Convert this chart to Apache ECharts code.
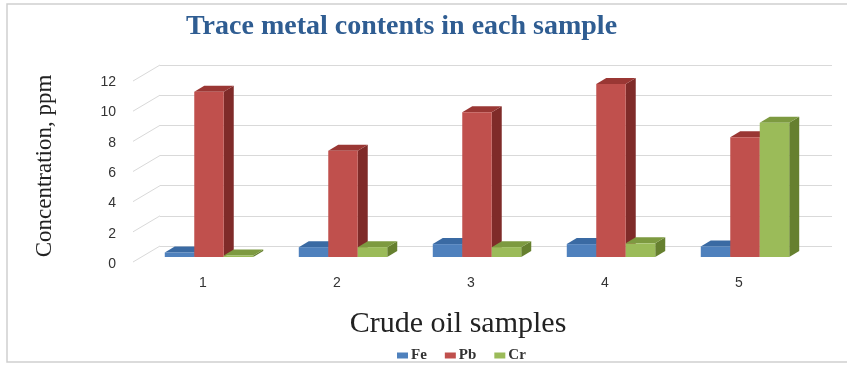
<!DOCTYPE html>
<html>
<head>
<meta charset="utf-8">
<script src="https://cdn.jsdelivr.net/npm/echarts@6/dist/echarts.min.js"></script>
<style>html,body{margin:0;padding:0;background:#fff}#c{width:847px;height:365px}</style>
</head>
<body>
<div id="c"></div>
<script>
const categories = ['1', '2', '3', '4', '5'];
const fe = [0.3, 0.65, 0.85, 0.85, 0.7];
const pb = [10.9, 7.0, 9.55, 11.4, 7.9];
const cr = [0.1, 0.65, 0.65, 0.9, 8.85];
const yTicks = [0, 2, 4, 6, 8, 10, 12];
const seriesNames = ['Fe', 'Pb', 'Cr'];

const palette = [
  { front: '#4F81BD', side: '#2F5B8E', top: '#3A6AA3' },
  { front: '#C0504D', side: '#7F2B29', top: '#9A3734' },
  { front: '#9BBB59', side: '#66802F', top: '#7D9A40' }
];
const DX = 10, DY = -6;

function barSeries(name, data, s) {
  return {
    type: 'custom',
    name: name,
    xAxisIndex: 0, yAxisIndex: 0,
    itemStyle: { color: palette[s].front },
    data: data.map((v, i) => [i, v]),
    renderItem: function (params, api) {
      const idx = api.value(0), val = api.value(1);
      const base = api.coord([idx, 0]);
      const topP = api.coord([idx, val]);
      const band = api.size([1, 0])[0];
      const w = band * 0.22;
      const x0 = base[0] - 1.5 * w + 6 + s * w;
      const yb = base[1], yt = topP[1];
      const c = palette[s];
      return {
        type: 'group',
        children: [
          { type: 'polygon', shape: { points: [[x0 + w, yt], [x0 + w + DX, yt + DY], [x0 + w + DX, yb + DY], [x0 + w, yb]] }, style: { fill: c.side } },
          { type: 'polygon', shape: { points: [[x0, yt], [x0 + DX, yt + DY], [x0 + w + DX, yt + DY], [x0 + w, yt]] }, style: { fill: c.top } },
          { type: 'rect', shape: { x: x0, y: yt, width: w, height: yb - yt }, style: { fill: c.front } }
        ]
      };
    }
  };
}

const chart = echarts.init(document.getElementById('c'));
chart.setOption({
  animation: false,
  backgroundColor: '#fff',
  title: {
    text: 'Trace metal contents in each sample',
    left: 181, top: 8,
    textStyle: { fontFamily: 'Liberation Serif', fontWeight: 'bold', fontSize: 28, color: '#2F5D92' }
  },
  graphic: [{
    type: 'rect', shape: { x: 7, y: 4, width: 860, height: 358 },
    style: { fill: null, stroke: '#CFCFCF', lineWidth: 1.5 }, silent: true, z: -1
  }],
  legend: {
    data: seriesNames,
    left: 392, top: 343,
    icon: 'rect', itemWidth: 11, itemHeight: 6, itemGap: 18,
    textStyle: { fontFamily: 'Liberation Serif', fontWeight: 'bold', fontSize: 15, color: '#333', padding: [0, 0, 0, -2] }
  },
  grid: [
    { left: 136, right: 41, top: 75, bottom: 108 },
    { left: 160, right: 15, top: 65, bottom: 119 }
  ],
  xAxis: [
    {
      type: 'category', gridIndex: 0, data: categories,
      axisLine: { show: false }, axisTick: { show: false },
      axisLabel: { margin: 19, fontFamily: 'Liberation Sans', fontSize: 14, color: '#333' },
      name: 'Crude oil samples', nameLocation: 'middle', nameGap: 67,
      nameTextStyle: { fontFamily: 'Liberation Serif', fontSize: 30, color: '#222', verticalAlign: 'middle', padding: [0, 26, 0, 0] }
    },
    { type: 'value', gridIndex: 1, min: 0, max: 1, show: false }
  ],
  yAxis: [
    {
      type: 'value', gridIndex: 0, min: 0, max: 12, interval: 2,
      axisLine: { show: false }, axisTick: { show: false }, splitLine: { show: false },
      axisLabel: { margin: 20, fontFamily: 'Liberation Sans', fontSize: 14, color: '#333', verticalAlign: 'top' },
      name: 'Concentration, ppm', nameLocation: 'middle', nameGap: 80,
      nameTextStyle: { fontFamily: 'Liberation Serif', fontSize: 23, color: '#222' }
    },
    {
      type: 'value', gridIndex: 1, min: 0, max: 12, interval: 2,
      axisLine: { show: false }, axisTick: { show: false }, axisLabel: { show: false },
      splitLine: { show: true, lineStyle: { color: '#D9D9D9', width: 1 } }
    }
  ],
  series: [
    {
      type: 'custom', name: 'wall', xAxisIndex: 1, yAxisIndex: 1, silent: true,
      data: yTicks.map(v => [0, v]),
      renderItem: function (params, api) {
        const p = api.coord([0, api.value(1)]);
        return { type: 'line', shape: { x1: p[0] - 27, y1: p[1] + 16, x2: p[0], y2: p[1] }, style: { stroke: '#D9D9D9', lineWidth: 1 } };
      }
    },
    barSeries('Fe', fe, 0),
    barSeries('Pb', pb, 1),
    barSeries('Cr', cr, 2)
  ]
});
</script>
</body>
</html>
